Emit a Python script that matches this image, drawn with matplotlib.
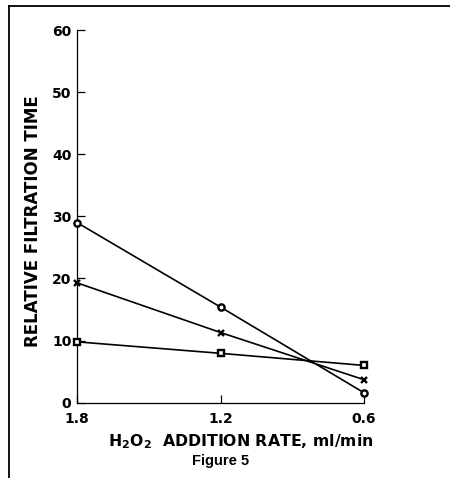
import matplotlib
matplotlib.use("Agg")
import matplotlib.pyplot as plt
from matplotlib.lines import Line2D

plt.rcParams['font.family'] = ['DejaVu Sans']
plt.rcParams['mathtext.fontset'] = 'custom'
plt.rcParams['mathtext.rm'] = 'DejaVu Sans'
plt.rcParams['mathtext.bf'] = 'DejaVu Sans:bold'

rates = [1.8, 1.2, 0.6]
series_circle = [29.0, 15.4, 1.6]
series_cross = [19.3, 11.3, 3.7]
series_square = [9.8, 7.95, 6.0]
x_ticks = [1.8, 1.2, 0.6]
x_ticklabels = ['1.8', '1.2', '0.6']
y_ticks = [0, 10, 20, 30, 40, 50, 60]

W, H = 450, 478
fig = plt.figure(figsize=(W / 100, H / 100), dpi=100)
left, right, top, bottom = 77, 364, 30, 402.7
ax = fig.add_axes([left / W, 1 - bottom / H, (right - left) / W, (bottom - top) / H])

lw = 1.2
ax.plot(rates, series_circle, color='black', lw=lw, marker='o', ms=4.5,
        mfc='white', mec='black', mew=1.7, clip_on=False, zorder=3)
ax.plot(rates, series_cross, color='black', lw=lw, marker='x', ms=5, mew=1.7,
        clip_on=False, zorder=3)
ax.plot(rates, series_square, color='black', lw=lw, marker='s', ms=4,
        mfc='white', mec='black', mew=1.7, clip_on=False, zorder=3)

ax.set_xlim(1.8, 0.6)
ax.set_ylim(0, 60)
ax.set_xticks(x_ticks)
ax.set_xticklabels(x_ticklabels)
ax.set_yticks(y_ticks)
for s in ['top', 'right']:
    ax.spines[s].set_visible(False)
for s in ['left', 'bottom']:
    ax.spines[s].set_linewidth(0.9)
ax.tick_params(direction='in', length=6, width=0.9, labelsize=10)
ax.tick_params(axis='y', pad=4)
ax.tick_params(axis='x', pad=7)
for t in ax.get_xticklabels() + ax.get_yticklabels():
    t.set_fontweight('bold')

fig.text(33 / W, 1 - 221.5 / H, 'RELATIVE FILTRATION TIME', rotation=90,
         ha='center', va='center', fontsize=12, fontweight='bold')
fig.text(241 / W, 1 - 446.5 / H,
         r'H$_{\mathbf{2}}$O$_{\mathbf{2}}$  ADDITION RATE, ml/min',
         ha='center', va='baseline', fontsize=11.3, fontweight='bold')
fig.text(221 / W, 1 - 464.5 / H, 'Figure 5', ha='center', va='baseline',
         fontsize=10.5, fontweight='bold', family='Liberation Sans')

fx = 8.5 / W
fy = 1 - 5.5 / H
fig.add_artist(Line2D([fx, fx], [0, fy], transform=fig.transFigure,
                      color='black', lw=1.3))
fig.add_artist(Line2D([fx, 1], [fy, fy], transform=fig.transFigure,
                      color='black', lw=1.3))

fig.savefig('out.png', dpi=100)
